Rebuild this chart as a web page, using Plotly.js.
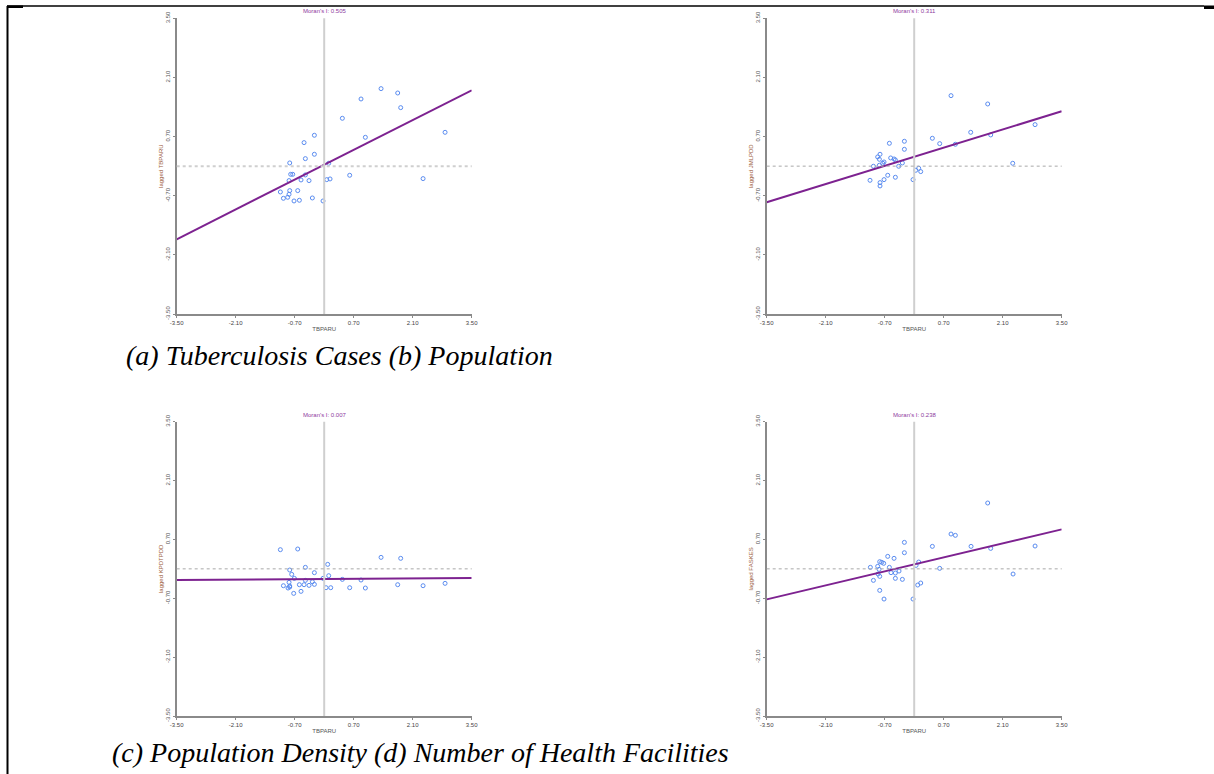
<!DOCTYPE html>
<html>
<head>
<meta charset="utf-8">
<script src="https://cdn.plot.ly/plotly-3.0.1.min.js"></script>
<style>html,body{margin:0;padding:0;background:#fff;}#chart{width:1214px;height:774px;}</style>
</head>
<body>
<div id="chart"></div>
<script>
// ---------- data ----------
const tickVals = [-3.5, -2.1, -0.7, 0.7, 2.1, 3.5];
const tickText = ['-3.50', '-2.10', '-0.70', '0.70', '2.10', '3.50'];

const moranLabels = ["Moran's I: 0.505", "Moran's I: 0.311", "Moran's I: 0.007", "Moran's I: 0.238"];
const xTitle = 'TBPARU';
const yTitles = ['lagged TBPARU', 'lagged JMLPDD', 'lagged KPDTPDD', 'lagged FASKES'];
const captionTop = '(a) Tuberculosis Cases (b) Population';
const captionBottom = '(c) Population Density (d) Number of Health Facilities';

// (a) Tuberculosis cases
const aX = [1.349, 1.744, 0.874, 1.815, 0.431, 2.868, 0.977, -0.233, -0.478, -0.233, -0.447, -0.818, 0.107, -0.747, -0.795, 0.605, -0.447, -0.834, -0.550, -0.360, 0.060, 0.139, 2.346, -1.040, -0.818, -0.628, -0.834, -0.968, -0.866, -0.716, -0.589, -0.281, -0.028];
const aY = [1.835, 1.732, 1.590, 1.385, 1.133, 0.801, 0.683, 0.731, 0.557, 0.281, 0.178, 0.076, 0.068, -0.193, -0.193, -0.216, -0.208, -0.342, -0.327, -0.342, -0.319, -0.303, -0.295, -0.611, -0.579, -0.579, -0.666, -0.761, -0.737, -0.824, -0.808, -0.753, -0.824];
const aLineY = [-1.731, 1.796];

// (b) Population
const bX = [0.874, 1.744, 2.868, 1.341, 1.815, 0.431, -0.233, -0.589, 0.605, 0.977, -0.233, -0.811, -0.866, -0.826, -0.558, -0.478, -0.447, -0.716, -0.747, -0.281, -0.968, -0.826, -0.368, 2.338, 0.107, 0.036, 0.155, -0.628, -0.447, -0.716, -1.048, -0.028, -0.811, -0.811];
const bY = [1.669, 1.472, 0.983, 0.801, 0.739, 0.660, 0.589, 0.541, 0.533, 0.518, 0.399, 0.281, 0.218, 0.162, 0.194, 0.170, 0.147, 0.099, 0.068, 0.076, -0.003, 0.021, -0.003, 0.068, -0.050, -0.098, -0.129, -0.216, -0.263, -0.319, -0.335, -0.319, -0.390, -0.469];
const bLineY = [-0.855, 1.299];

// (c) Population density
const cX = [-1.040, -0.628, 1.349, 1.815, 0.083, -0.447, -0.818, -0.233, -0.771, 0.107, -0.708, -0.028, -0.447, -0.281, 0.431, 0.874, -0.834, -0.233, -0.589, -0.478, -0.360, -0.968, -0.818, -0.858, -0.818, 0.044, 0.155, 0.605, 0.977, 1.744, 2.346, 2.868, -0.550, -0.724];
const cY = [0.456, 0.472, 0.273, 0.250, 0.107, 0.036, -0.028, -0.091, -0.131, -0.163, -0.226, -0.226, -0.274, -0.306, -0.250, -0.266, -0.321, -0.369, -0.377, -0.377, -0.393, -0.401, -0.409, -0.456, -0.432, -0.448, -0.448, -0.448, -0.456, -0.377, -0.401, -0.345, -0.535, -0.583];
const cLineY = [-0.266, -0.218];

// (d) Number of health facilities
const dX = [1.744, 0.874, 0.977, -0.233, 0.431, 1.349, 2.868, 1.815, -0.233, -0.628, -0.478, -0.818, -0.771, -0.724, 0.107, 0.044, -1.040, -0.866, -0.589, 0.605, -0.834, -0.360, -0.550, -0.447, -0.858, -0.818, 2.346, -0.447, -0.281, -0.968, 0.155, 0.083, -0.818, -0.716, -0.028];
const dY = [1.566, 0.828, 0.797, 0.630, 0.535, 0.535, 0.543, 0.487, 0.384, 0.297, 0.250, 0.170, 0.155, 0.131, 0.162, 0.083, 0.036, 0.060, 0.036, 0.012, -0.012, -0.052, -0.091, -0.099, -0.123, -0.179, -0.123, -0.226, -0.250, -0.274, -0.337, -0.385, -0.512, -0.718, -0.718];
const dLineY = [-0.726, 0.939];

const axisRange = [-3.5, 3.5];

// ---------- layout geometry ----------
const W = 1214, H = 774;
const colX = [[176.7, 471.7], [766.7, 1061.7]];
const rowY = [[18.3, 314], [421.7, 716]];
function dx(p) { return [p[0] / W, p[1] / W]; }
function dy(p) { return [1 - p[1] / H, 1 - p[0] / H]; }

const panels = [
  { x: aX, y: aY, ly: aLineY, col: 0, row: 0 },
  { x: bX, y: bY, ly: bLineY, col: 1, row: 0 },
  { x: cX, y: cY, ly: cLineY, col: 0, row: 1 },
  { x: dX, y: dY, ly: dLineY, col: 1, row: 1 }
];

const traces = [];
const layout = {
  width: W, height: H,
  margin: { l: 0, r: 0, t: 0, b: 0 },
  paper_bgcolor: '#ffffff', plot_bgcolor: '#ffffff',
  showlegend: false,
  font: { family: 'Liberation Sans, Arial, sans-serif', size: 6, color: '#444' },
  shapes: [], annotations: []
};

panels.forEach((p, i) => {
  const n = i + 1;
  const xa = 'x' + (n === 1 ? '' : n), ya = 'y' + (n === 1 ? '' : n);
  const xk = 'xaxis' + (n === 1 ? '' : n), yk = 'yaxis' + (n === 1 ? '' : n);
  traces.push({
    type: 'scatter', mode: 'markers', x: p.x, y: p.y, xaxis: xa, yaxis: ya,
    marker: { symbol: 'circle-open', size: 4, color: '#5a8cf0', line: { width: 1, color: '#5a8cf0' } },
    hoverinfo: 'x+y'
  });
  traces.push({
    type: 'scatter', mode: 'lines', x: axisRange, y: p.ly, xaxis: xa, yaxis: ya,
    line: { color: '#7d2290', width: 2 }, hoverinfo: 'skip'
  });
  layout[xk] = {
    domain: dx(colX[p.col]), anchor: ya, range: axisRange, fixedrange: true,
    showgrid: false, zeroline: false, showline: true, linecolor: '#8a8a8a', linewidth: 2,
    ticks: 'outside', ticklen: 2, tickcolor: '#8a8a8a', tickwidth: 1,
    tickvals: tickVals, ticktext: tickText,
    tickfont: { size: 6, color: '#444' },
    title: { text: xTitle, font: { size: 6, color: '#555' }, standoff: 2 }
  };
  layout[yk] = {
    domain: dy(rowY[p.row]), anchor: xa, range: axisRange, fixedrange: true,
    showgrid: false, zeroline: false, showline: true, linecolor: '#8a8a8a', linewidth: 2,
    ticks: 'outside', ticklen: 2, tickcolor: '#8a8a8a', tickwidth: 1,
    tickvals: tickVals, ticktext: tickText, tickangle: -90,
    tickfont: { size: 6, color: '#555' },
    title: { text: yTitles[i], font: { size: 6, color: '#9a5a3a' }, standoff: 1 }
  };
  // zero reference lines
  layout.shapes.push({ type: 'line', xref: xa, yref: ya + ' domain', x0: 0, x1: 0, y0: 0, y1: 1,
    line: { color: '#cfcfcf', width: 2 } });
  layout.shapes.push({ type: 'line', xref: xa + ' domain', yref: ya, x0: 0, x1: 1, y0: 0, y1: 0,
    line: { color: i === 0 ? '#cfcfcf' : '#a8a8a8', width: i === 0 ? 2 : 1, dash: 'dot' } });
  layout.annotations.push({
    xref: xa + ' domain', yref: ya + ' domain', x: 0.5, y: 1, yanchor: 'bottom', xanchor: 'center',
    yshift: 2, showarrow: false, text: moranLabels[i], font: { size: 6, color: '#8e3a9e' }
  });
});

// document table border
layout.shapes.push({ type: 'line', xref: 'paper', yref: 'paper', x0: 7 / W, x1: 1204 / W, y0: 1 - 6 / H, y1: 1 - 6 / H, line: { color: '#000', width: 1.5 } });
layout.shapes.push({ type: 'line', xref: 'paper', yref: 'paper', x0: 7.5 / W, x1: 7.5 / W, y0: 1 - 6 / H, y1: 0, line: { color: '#000', width: 2 } });
layout.shapes.push({ type: 'rect', xref: 'paper', yref: 'paper', x0: 7 / W, x1: 23 / W, y0: 1 - 8 / H, y1: 1 - 5.5 / H, fillcolor: '#000', line: { width: 0 } });
layout.shapes.push({ type: 'rect', xref: 'paper', yref: 'paper', x0: 1204 / W, x1: 1214 / W, y0: 1 - 9 / H, y1: 1 - 5.5 / H, fillcolor: '#000', line: { width: 0 } });

// captions
layout.annotations.push({ xref: 'paper', yref: 'paper', x: 124 / W, y: 1 - 355 / H, xanchor: 'left', yanchor: 'middle',
  showarrow: false, text: '<i>' + captionTop + '</i>', font: { family: 'Liberation Serif, Times New Roman, serif', size: 28, color: '#000' } });
layout.annotations.push({ xref: 'paper', yref: 'paper', x: 110 / W, y: 1 - 752 / H, xanchor: 'left', yanchor: 'middle',
  showarrow: false, text: '<i>' + captionBottom + '</i>', font: { family: 'Liberation Serif, Times New Roman, serif', size: 28, color: '#000' } });

Plotly.newPlot('chart', traces, layout, { displayModeBar: false, staticPlot: true });
</script>
</body>
</html>
